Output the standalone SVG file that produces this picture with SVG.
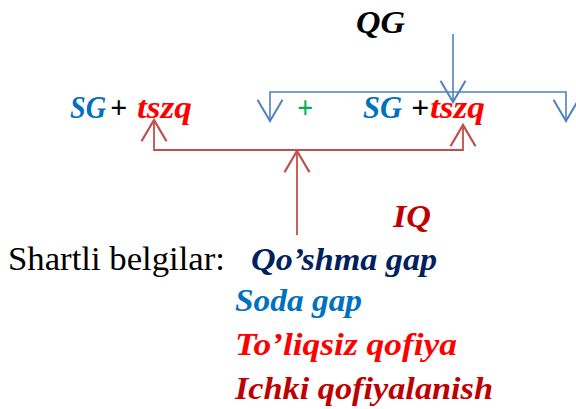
<svg xmlns="http://www.w3.org/2000/svg" width="576" height="409" viewBox="0 0 576 409">
<defs>
<style>
.t{font-family:"Liberation Serif","Times New Roman",serif;font-weight:bold;font-style:italic;font-size:32px}
.r{font-family:"Liberation Serif","Times New Roman",serif;font-size:33px;fill:#000}
.blue{fill:#0070C0}.red{fill:#FF0000}.dred{fill:#C00000}.navy{fill:#002060}.blk{fill:#000}.grn{fill:#00B050}
.cb{fill:none;stroke:#4F81BD;stroke-width:1.6}
.cr{fill:none;stroke:#C0504D;stroke-width:1.8}
</style>
<marker id="ab" markerUnits="userSpaceOnUse" markerWidth="30" markerHeight="30" refX="17" refY="0" viewBox="-2 -12 22 24" orient="auto-start-reverse" overflow="visible">
<path d="M0,-10 L17,0 L0,10" fill="none" stroke="#4F81BD" stroke-width="1.6"/>
</marker>
<marker id="ar" markerUnits="userSpaceOnUse" markerWidth="30" markerHeight="30" refX="17" refY="0" viewBox="-2 -12 22 24" orient="auto-start-reverse" overflow="visible">
<path d="M0,-10 L17,0 L0,10" fill="none" stroke="#C0504D" stroke-width="1.8"/>
</marker>
</defs>
<g id="connectors">
<path class="cb" d="M453,34 V102" marker-end="url(#ab)"/>
<path class="cb" d="M270,121 V92 H566 V121" marker-start="url(#ab)" marker-end="url(#ab)"/>
<path class="cr" d="M154,120 V150 H463 V125" marker-start="url(#ar)" marker-end="url(#ar)"/>
<path class="cr" d="M297,235 V151" marker-end="url(#ar)"/>
</g>
<g id="qg"><text class="t blk" x="356" y="33" textLength="49" lengthAdjust="spacingAndGlyphs">QG</text></g>
<g id="left">
<text class="t blue" x="70" y="118" textLength="36" lengthAdjust="spacingAndGlyphs">SG</text>
<text class="t blk" x="110" y="118" textLength="17" lengthAdjust="spacingAndGlyphs">+</text>
<text class="t red" x="137" y="118" textLength="55" lengthAdjust="spacingAndGlyphs">tszq</text>
</g>
<g id="plus"><text class="t grn" x="297" y="118" textLength="16" lengthAdjust="spacingAndGlyphs">+</text></g>
<g id="right">
<text class="t blue" x="363" y="118" textLength="39" lengthAdjust="spacingAndGlyphs">SG</text>
<text class="t blk" x="411" y="118" textLength="18" lengthAdjust="spacingAndGlyphs">+</text>
<text class="t red" x="430" y="118" textLength="55" lengthAdjust="spacingAndGlyphs">tszq</text>
</g>
<g id="iq"><text class="t dred" x="393" y="227" textLength="38" lengthAdjust="spacingAndGlyphs">IQ</text></g>
<g id="legend">
<text class="r" x="8" y="270" textLength="217" lengthAdjust="spacingAndGlyphs">Shartli belgilar:</text>
<text class="t navy" x="251" y="270" textLength="186" lengthAdjust="spacingAndGlyphs">Qo’shma gap</text>
<text class="t blue" x="235" y="311" textLength="127" lengthAdjust="spacingAndGlyphs">Soda gap</text>
<text class="t red" x="235" y="355" textLength="222" lengthAdjust="spacingAndGlyphs">To’liqsiz qofiya</text>
<text class="t dred" x="235" y="399" textLength="258" lengthAdjust="spacingAndGlyphs">Ichki qofiyalanish</text>
</g>
</svg>
